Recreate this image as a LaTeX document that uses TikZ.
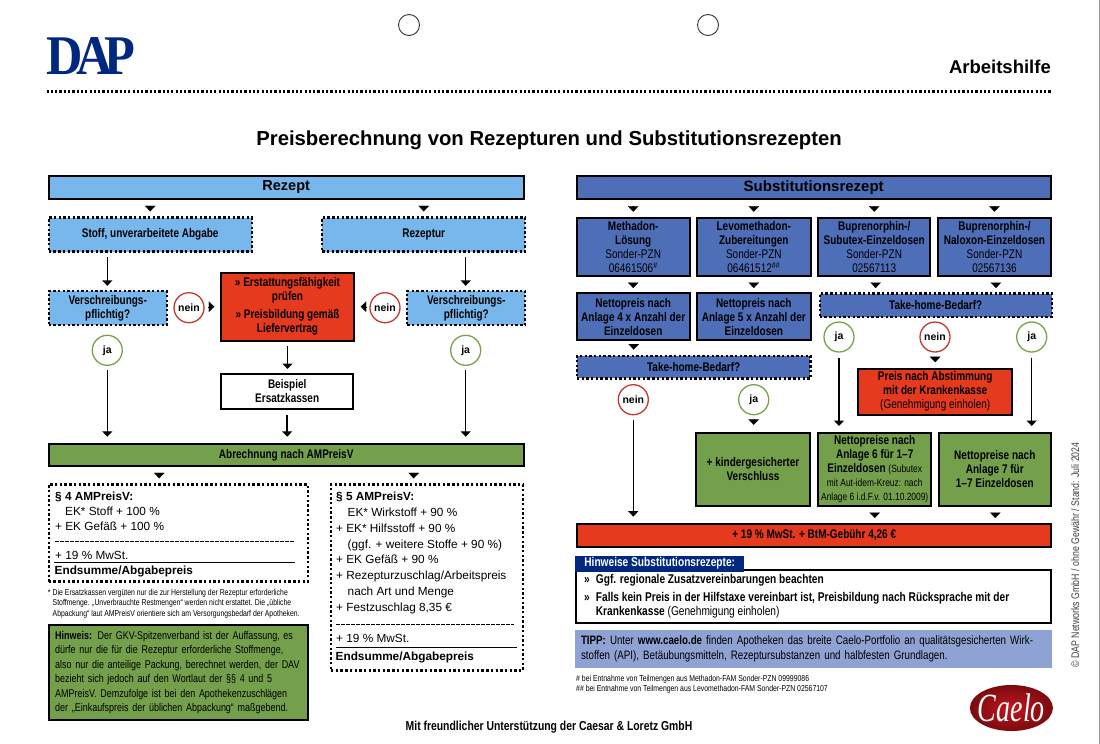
\documentclass[tikz,border=0pt]{standalone}
\usepackage{fontspec}
\usepackage{xcolor}
\usepackage{tikz}
\usetikzlibrary{arrows.meta,shapes.geometric}
\setmainfont{Liberation Sans}
\newfontfamily\condfam[FakeStretch=0.8]{Liberation Sans}
\newfontfamily\dapfam[FakeStretch=0.9]{Liberation Serif}
\newfontfamily\caelofam[FakeStretch=0.7]{Liberation Serif}
\definecolor{rezblue}{HTML}{78B7EC}
\definecolor{subblue}{HTML}{4F6EB8}
\definecolor{tippblue}{HTML}{8FA2D4}
\definecolor{dapblue}{HTML}{00287F}
\definecolor{boxred}{HTML}{E63A1F}
\definecolor{boxgreen}{HTML}{74A04B}
\definecolor{ringred}{HTML}{C8372D}
\definecolor{ringgreen}{HTML}{7BA24B}
\definecolor{caeloin}{HTML}{C4141C}
\definecolor{caeloout}{HTML}{7A0C10}
\tikzset{
  solidbox/.style={draw=black,line width=2pt,inner sep=0pt,align=center,font=\condfam\bfseries\fontsize{12.5}{14}\selectfont},
  dotbox/.style={solidbox,line width=2.3pt,dash pattern=on 2.4pt off 2.3pt},
  ring/.style={circle,line width=1.3pt,fill=white,minimum size=30pt,inner sep=0pt,font=\bfseries\fontsize{10.5}{12}\selectfont},
  flow/.style={-{Triangle[width=10pt,length=5.5pt]},line width=1.5pt},
  tiphead/.style={-{Triangle[width=10.5pt,length=5.5pt]},line width=0.1pt},
  calc/.style={anchor=base west,inner sep=0pt,align=left,font=\fontsize{11.8}{15.8}\selectfont},
  fine/.style={anchor=base west,inner sep=0pt,align=left,font=\condfam\fontsize{8.6}{10.2}\selectfont},
  note/.style={anchor=base west,inner sep=0pt,align=left,font=\condfam\bfseries\fontsize{12.7}{14}\selectfont}
}
\begin{document}
\begin{tikzpicture}[x=1pt,y=1pt,yscale=-1,xscale=1]
\useasboundingbox (0,0) rectangle (1100,744);

%Page edge and punch holes
\draw [color=gray!80,line width=1.2pt] (1099.4,0) -- (1099.4,744);
\draw [line width=0.9pt,color=black!80] (409,25) circle [radius=10.5];
\draw [line width=0.9pt,color=black!80] (708,25) circle [radius=10.5];
\draw [line width=2.2pt,dash pattern=on 2.2pt off 2.1pt] (46.5,91.5) -- (1052,91.5);

% Text Node
\draw (46,74.5) node (daplogo) [anchor=base west][inner sep=0pt][text=dapblue] [font=\dapfam\bfseries\fontsize{56}{56}\selectfont] {D\kern-6pt A\kern-8.3pt P};
% Text Node
\draw (1051,73) node (arbeit) [anchor=base east][inner sep=0pt] [font=\bfseries\fontsize{18.5}{20}\selectfont] {Arbeitshilfe};
% Text Node
\draw (549,145) node (title) [anchor=base][inner sep=0pt] [font=\bfseries\fontsize{20.3}{24}\selectfont] {Preisberechnung von Rezepturen und Substitutionsrezepten};

%Left column
\node [solidbox,fill=rezblue,minimum width=475pt,minimum height=23pt,font=\bfseries\fontsize{14.5}{16}\selectfont] (rezept) at (286.2,187) {Rezept};
\node [dotbox,fill=rezblue,minimum width=203pt,minimum height=34pt] (stoff) at (150.2,234.5) {Stoff, unverarbeitete Abgabe};
\node [dotbox,fill=rezblue,minimum width=203pt,minimum height=34pt] (rezeptur) at (423.7,234.5) {Rezeptur};
\node [dotbox,fill=rezblue,minimum width=118pt,minimum height=34pt] (pflichtl) at (107.7,308) {Verschreibungs-\\pflichtig?};
\node [dotbox,fill=rezblue,minimum width=118pt,minimum height=34pt] (pflichtr) at (466.3,308) {Verschreibungs-\\pflichtig?};
\node [solidbox,fill=boxred,minimum width=132.4pt,minimum height=68pt] (pruefen) at (287.5,306.7) {» Erstattungsfähigkeit\\prüfen\\[4pt]» Preisbildung gemäß\\Liefervertrag};
\node [solidbox,fill=white,minimum width=132pt,minimum height=35pt] (beispiel) at (287.2,391.5) {Beispiel\\Ersatzkassen};
\node [solidbox,fill=boxgreen,minimum width=475pt,minimum height=22.5pt] (abrechnung) at (286.2,455) {Abrechnung nach AMPreisV};
\node [ring,draw=ringred] (neinl) at (189,307.7) {nein};
\node [ring,draw=ringred] (neinr) at (385,307.7) {nein};
\node [ring,draw=ringgreen] (jal) at (107.3,350.3) {ja};
\node [ring,draw=ringgreen] (jar) at (465.7,350.3) {ja};

%Straight Lines
\draw [flow,shorten <=4.5pt,shorten >=4pt] (stoff.south -| jal) -- (pflichtl.north -| jal);
\draw [flow,shorten <=4.5pt,shorten >=4pt] (rezeptur.south -| jar) -- (pflichtr.north -| jar);
\draw [flow,shorten <=4.5pt,shorten >=6pt] (jal.south) -- (abrechnung.north -| jal);
\draw [flow,shorten <=4.5pt,shorten >=6pt] (jar.south) -- (abrechnung.north -| jar);
\draw [flow,shorten <=4.5pt,shorten >=4pt] (pruefen.south) -- (pruefen.south |- beispiel.north);
\draw [flow,shorten <=4.5pt,shorten >=6pt] (beispiel.south) -- (beispiel.south |- abrechnung.north);
\draw [tiphead] (stoff.north) ++(0,-10.5) -- ++(0,5.5);
\draw [tiphead] (rezeptur.north) ++(0,-10.5) -- ++(0,5.5);
\draw [tiphead] (pruefen.west) ++(-12,0) -- ++(6,0);
\draw [tiphead] (pruefen.east) ++(12,0) -- ++(-6,0);

%Calculation boxes
\node [dotbox,minimum width=259pt,minimum height=97pt] (par4) at (178.2,533) {};
\node [dotbox,minimum width=192pt,minimum height=186pt] (par5) at (427,577.5) {};
\draw [tiphead] (par4.north) ++(-19,-10.5) -- ++(0,5.5);
\draw [tiphead] (par5.north) ++(-13.3,-10.5) -- ++(0,5.5);

% Text Node
\draw (55,500.7) node (headvier) [calc] {\textbf{§ 4 AMPreisV:}};
\draw (65,515) node (stoffek) [calc] {EK* Stoff + 100 \%};
\draw (55,530) node (gefaessek) [calc] {+ EK Gefäß + 100 \%};
\draw (55,559) node (mwstvier) [calc] {+ 19 \% MwSt.};
\draw (54.5,574.5) node (endvier) [calc] {\textbf{Endsumme/Abgabepreis}};
\draw [line width=0.5pt,dash pattern=on 4pt off 1pt] (55,541) -- (294,541);
\draw [line width=1.5pt] (54,562.7) -- (295,562.7);

% Text Node
\draw (336,500.7) node (headfuenf) [calc] {\textbf{§ 5 AMPreisV:}};
\draw (347.5,516.7) node (wirk) [calc] {EK* Wirkstoff + 90 \%};
\draw (336,532.5) node (hilf) [calc] {+ EK* Hilfsstoff + 90 \%};
\draw (347.5,548) node (weitere) [calc] {(ggf. + weitere Stoffe + 90 \%)};
\draw (336,563.7) node (gefaessfuenf) [calc] {+ EK Gefäß + 90 \%};
\draw (336,579.7) node (zuschlag) [calc] {+ Rezepturzuschlag/Arbeitspreis};
\draw (347.5,595.4) node (artmenge) [calc] {nach Art und Menge};
\draw (336,611) node (fest) [calc] {+ Festzuschlag 8,35 €};
\draw (336,642.7) node (mwstfuenf) [calc] {+ 19 \% MwSt.};
\draw (335.5,660) node (endfuenf) [calc] {\textbf{Endsumme/Abgabepreis}};
\draw [line width=0.5pt,dash pattern=on 4pt off 1pt] (336,624) -- (514,624);
\draw [line width=1.5pt] (336,647.3) -- (517,647.3);

% Text Node
\draw (47.7,595.7) node (stern) [fine] {*};
\draw (52.5,616) node (fussnote) [fine] {Die Ersatzkassen vergüten nur die zur Herstellung der Rezeptur erforderliche\\Stoffmenge. „Unverbrauchte Restmengen“ werden nicht erstattet. Die „übliche\\Abpackung“ laut AMPreisV orientiere sich am Versorgungsbedarf der Apotheken.};

\node [solidbox,fill=boxgreen,minimum width=259pt,minimum height=94.7pt,text width=246pt,align=left,font=\condfam\fontsize{11.2}{14.5}\selectfont] (hinweis) at (178.2,672.7) {\textbf{Hinweis:} Der GKV-Spitzenverband ist der Auffassung, es\\dürfe nur die für die Rezeptur erforderliche Stoffmenge,\\also nur die anteilige Packung, berechnet werden, der DAV\\bezieht sich jedoch auf den Wortlaut der §§ 4 und 5\\AMPreisV. Demzufolge ist bei den Apothekenzuschlägen\\der „Einkaufspreis der üblichen Abpackung“ maßgebend.};

%Right column
\node [solidbox,fill=subblue,minimum width=474pt,minimum height=23pt,font=\bfseries\fontsize{15}{16}\selectfont] (subst) at (813.7,187.2) {Substitutionsrezept};
\node [solidbox,fill=subblue,minimum width=113pt,minimum height=58.6pt] (methadon) at (633.2,247) {Methadon-\\Lösung\\{\mdseries Sonder-PZN}\\{\mdseries 06461506\textsuperscript{\#}}};
\node [solidbox,fill=subblue,minimum width=113.7pt,minimum height=58.6pt] (levo) at (753.8,247) {Levomethadon-\\Zubereitungen\\{\mdseries Sonder-PZN}\\{\mdseries 06461512\textsuperscript{\#\#}}};
\node [solidbox,fill=subblue,minimum width=112.3pt,minimum height=58.6pt] (subutex) at (874.2,247) {Buprenorphin-/\\Subutex-Einzeldosen\\{\mdseries Sonder-PZN}\\{\mdseries 02567113}};
\node [solidbox,fill=subblue,minimum width=112.4pt,minimum height=58.6pt] (naloxon) at (994.5,247) {Buprenorphin-/\\Naloxon-Einzeldosen\\{\mdseries Sonder-PZN}\\{\mdseries 02567136}};
\node [solidbox,fill=subblue,minimum width=113pt,minimum height=46.7pt] (nettovier) at (633.2,316.7) {Nettopreis nach\\Anlage 4 x Anzahl der\\Einzeldosen};
\node [solidbox,fill=subblue,minimum width=113.7pt,minimum height=46.7pt] (nettofuenf) at (753.8,316.7) {Nettopreis nach\\Anlage 5 x Anzahl der\\Einzeldosen};
\node [dotbox,fill=subblue,minimum width=232pt,minimum height=23.5pt] (taker) at (935.7,305.3) {Take-home-Bedarf?};
\node [dotbox,fill=subblue,minimum width=233.5pt,minimum height=22.5pt] (takel) at (693.7,367.2) {Take-home-Bedarf?};
\node [ring,draw=ringgreen] (jaeins) at (839,337) {ja};
\node [ring,draw=ringred] (neineins) at (935,337) {nein};
\node [ring,draw=ringgreen] (jazwei) at (1031.7,337) {ja};
\node [ring,draw=ringred] (neinzwei) at (633.3,399.7) {nein};
\node [ring,draw=ringgreen] (jadrei) at (753.7,399.7) {ja};
\node [solidbox,fill=boxred,minimum width=153.7pt,minimum height=46pt] (abstimmung) at (935.2,391.7) {Preis nach Abstimmung\\mit der Krankenkasse\\{\mdseries (Genehmigung einholen)}};
\node [solidbox,fill=boxgreen,minimum width=113.4pt,minimum height=73.6pt] (kinder) at (753,469.5) {+ kindergesicherter\\Verschluss};
\node [solidbox,fill=boxgreen,minimum width=113.3pt,minimum height=73.6pt] (nettosechs) at (874.7,469.5) {Nettopreise nach\\Anlage 6 für 1–7\\Einzeldosen {\mdseries\fontsize{10.5}{13}\selectfont (Subutex}\\{\mdseries\fontsize{10.5}{13}\selectfont mit Aut-idem-Kreuz: nach}\\{\mdseries\fontsize{10.5}{13}\selectfont Anlage 6 i.d.F.v. 01.10.2009)}};
\node [solidbox,fill=boxgreen,minimum width=112.3pt,minimum height=73.6pt] (nettosieben) at (994.8,469.5) {Nettopreise nach\\Anlage 7 für\\1–7 Einzeldosen};
\node [solidbox,fill=boxred,minimum width=473.7pt,minimum height=23.3pt] (mwstbar) at (814.2,535.3) {+ 19 \% MwSt. + BtM-Gebühr 4,26 €};

%Straight Lines
\draw [tiphead] (methadon.north) ++(0,-10.5) -- ++(0,5.5);
\draw [tiphead] (levo.north) ++(0,-10.5) -- ++(0,5.5);
\draw [tiphead] (subutex.north) ++(0,-10.5) -- ++(0,5.5);
\draw [tiphead] (naloxon.north) ++(0,-10.5) -- ++(0,5.5);
\draw [tiphead] (methadon.south) ++(0,5.2) -- ++(0,5.5);
\draw [tiphead] (levo.south) ++(0,5.2) -- ++(0,5.5);
\draw [tiphead] (subutex.south) ++(1.4,5.2) -- ++(0,5.5);
\draw [tiphead] (naloxon.south) ++(1.4,5.2) -- ++(0,5.5);
\draw [tiphead] (nettovier.south) ++(0.5,3) -- ++(0,5.5);
\draw [tiphead] (abstimmung.north) ++(0,-11) -- ++(0,5.5);
\draw [tiphead] (kinder.north) ++(0.7,-12.4) -- ++(0,5.5);
\draw [tiphead] (nettosechs.south) ++(0,5.2) -- ++(0,5.5);
\draw [tiphead] (nettosieben.south) ++(0.5,5.2) -- ++(0,5.5);
\draw [flow,shorten <=5pt,shorten >=5.7pt] (jaeins.south) -- (nettosechs.north -| jaeins);
\draw [flow,shorten <=5pt,shorten >=5.7pt] (jazwei.south) -- (nettosieben.north -| jazwei);
\draw [flow,shorten <=4.6pt,shorten >=6pt] (neinzwei.south) -- (mwstbar.north -| neinzwei);

%Notes
\node [solidbox,minimum width=475.4pt,minimum height=53pt] (hinweisbox) at (813.7,596.8) {};
\node [fill=dapblue,text=white,inner sep=0pt,minimum width=169.5pt,minimum height=16pt,font=\condfam\bfseries\fontsize{12.7}{14}\selectfont] (hinweiskopf) at (659.7,563.5) {Hinweise Substitutionsrezepte:};
\node [fill=tippblue,inner sep=0pt,minimum width=477pt,minimum height=38pt,text width=465pt,align=left,font=\condfam\fontsize{12.2}{15.5}\selectfont] (tipp) at (813.5,648.7) {\textbf{TIPP:} Unter \textbf{www.caelo.de} finden Apotheken das breite Caelo-Portfolio an qualitätsgesicherten Wirk-\\stoffen (API), Betäubungsmitteln, Rezeptursubstanzen und halbfesten Grundlagen.};

% Text Node
\draw (584,583.3) node (punkteins) [note] {»};
\draw (595.7,583.3) node (regional) [note] {Ggf. regionale Zusatzvereinbarungen beachten};
\draw (584,601.7) node (punktzwei) [note] {»};
\draw (595.7,615.7) node (hilfstaxe) [note] {Falls kein Preis in der Hilfstaxe vereinbart ist, Preisbildung nach Rücksprache mit der\\Krankenkasse {\mdseries (Genehmigung einholen)}};
% Text Node
\draw (576,681.7) node (raute) [fine] {\# bei Entnahme von Teilmengen aus Methadon-FAM Sonder-PZN 09999086};
\draw (576,691.7) node (rauten) [fine] {\#\# bei Entnahme von Teilmengen aus Levomethadon-FAM Sonder-PZN 02567107};
% Text Node
\draw (549,730) node (dank) [anchor=base][inner sep=0pt] [font=\condfam\bfseries\fontsize{13}{14}\selectfont] {Mit freundlicher Unterstützung der Caesar \& Loretz GmbH};
% Text Node
\draw (1079,668) node (stand) [anchor=base west,rotate=90][inner sep=0pt] [font=\condfam\fontsize{11}{12}\selectfont,text=black!75] {© DAP Networks GmbH / ohne Gewähr / Stand: Juli 2024};

%Shape: Ellipse
\node [ellipse,minimum width=83pt,minimum height=46pt,inner sep=0pt,inner color=caeloin,outer color=caeloout] (caelo) at (1011.4,708) {};
% Text Node
\draw (caelo.center) node (caelotext) [inner sep=0pt][text=white] [font=\caelofam\itshape\fontsize{40}{40}\selectfont] {Caelo};
\end{tikzpicture}
\end{document}
